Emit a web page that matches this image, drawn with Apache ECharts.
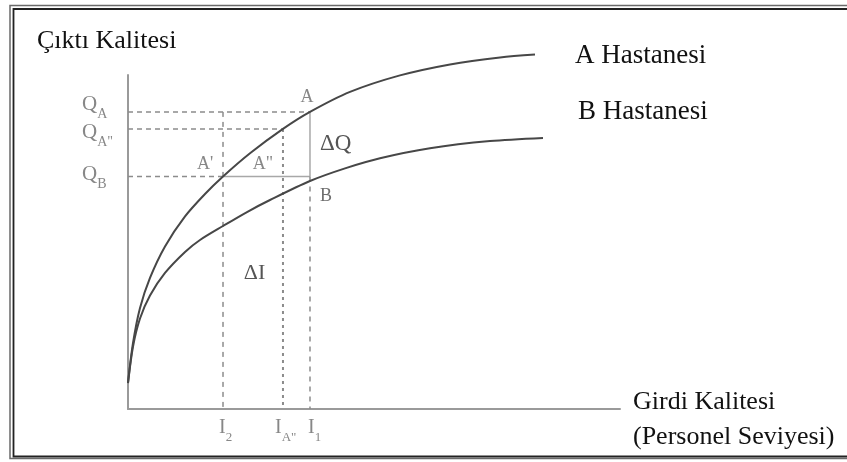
<!DOCTYPE html>
<html>
<head>
<meta charset="utf-8">
<script src="https://cdn.jsdelivr.net/npm/echarts@6/dist/echarts.min.js"></script>
<style>
  html, body { margin: 0; padding: 0; background: #fff; }
  #chart { width: 847px; height: 462px; }
</style>
</head>
<body>
<div id="chart"></div>
<script>
// Production curves: input quality (x) vs output quality (y), 0-100 scale
const hospitalA = [
  [0, 7.78], [1.02, 19.79], [2.44, 30.27], [4.47, 39.25], [7.52, 48.68], [11.59, 57.66],
  [15.65, 64.37], [19.31, 69.61], [24.8, 76.56], [31.5, 83.86], [36.99, 88.95],
  [45.12, 94.94], [55.28, 99.88], [65.45, 103.17], [75.61, 105.27], [82.72, 106.11]
];
const hospitalB = [
  [0, 7.78], [1.02, 18.71], [2.44, 27.10], [4.47, 33.98], [7.52, 40.72], [11.59, 47.01],
  [14.63, 50.60], [19.31, 54.79], [24.19, 58.98], [28.86, 62.57], [36.99, 68.26],
  [44.11, 72.04], [51.22, 75.06], [61.38, 78.05], [73.58, 80.21], [84.35, 81.17]
];

// Input levels I2, IA'', I1 and output levels QA, QA'', QB
const inputLevels = [19.31, 31.5, 36.99];
const inputSubs = ['2', 'A"', '1'];
const outputLevels = [88.95, 83.86, 69.61];
const outputSubs = ['A', 'A"', 'B'];

const yTitle = 'Çıktı Kalitesi';
const xTitle = ['Girdi Kalitesi', '(Personel Seviyesi)'];
const curveNames = ['A Hastanesi', 'B Hastanesi'];

const SERIF = '"Liberation Serif", "Times New Roman", serif';
const [I2, IA, I1] = inputLevels;
const [QA, QAA, QB] = outputLevels;

const chart = echarts.init(document.getElementById('chart'), null, { renderer: 'canvas' });

function seg(points, color, type, width) {
  return {
    type: 'line', data: points, showSymbol: false, silent: true, clip: false,
    lineStyle: { color: color, type: type, width: width }, z: 1
  };
}
const guide = '#8c8c8c';
const axisStyle = { show: true, lineStyle: { color: '#9a9a9a', width: 2 } };

chart.setOption({
  animation: false,
  backgroundColor: '#ffffff',
  grid: { left: 128, right: 227, top: 75, bottom: 53 },
  xAxis: {
    type: 'value', min: 0, max: 100,
    axisLine: axisStyle, axisTick: { show: false }, axisLabel: { show: false }, splitLine: { show: false }
  },
  yAxis: {
    type: 'value', min: 0, max: 100,
    axisLine: axisStyle, axisTick: { show: false }, axisLabel: { show: false }, splitLine: { show: false }
  },
  series: [
    // horizontal guides
    seg([[0, QA], [I1, QA]], guide, [5, 4], 1.5),
    seg([[0, QAA], [IA, QAA]], guide, [5, 4], 1.5),
    seg([[0, QB], [I2, QB]], guide, [5, 4], 1.5),
    seg([[I2, QB], [I1, QB]], '#a8a8a8', 'solid', 1.5),
    // vertical guides
    seg([[I2, QA], [I2, 0]], guide, [5, 5], 1.5),
    seg([[IA, QAA], [IA, 0]], guide, [3, 4], 2),
    seg([[I1, QA], [I1, QB]], '#a8a8a8', 'solid', 1.5),
    seg([[I1, QB], [I1, 0]], guide, [5, 5], 1.5),
    // curves
    {
      type: 'line', name: curveNames[0], data: hospitalA, smooth: 0.3,
      showSymbol: false, clip: false, silent: true, z: 3,
      lineStyle: { color: '#474747', width: 2 }
    },
    {
      type: 'line', name: curveNames[1], data: hospitalB, smooth: 0.3,
      showSymbol: false, clip: false, silent: true, z: 3,
      lineStyle: { color: '#474747', width: 2 }
    }
  ]
});

const px = (x, y) => chart.convertToPixel({ gridIndex: 0 }, [x, y]);

function txt(x, y, text, size, color, align) {
  return {
    type: 'text', x: x, y: y, silent: true, z: 10,
    style: {
      text: text, font: size + 'px ' + SERIF, fill: color,
      align: align || 'left', verticalAlign: 'middle'
    }
  };
}
function sub(x, y, main, s, size, color) {
  return {
    type: 'text', x: x, y: y, silent: true, z: 10,
    style: {
      text: '{m|' + main + '}{s|' + s + '}', align: 'left', verticalAlign: 'middle',
      rich: {
        m: { fontFamily: SERIF, fontSize: size, fill: color, lineHeight: 24, verticalAlign: 'top' },
        s: { fontFamily: SERIF, fontSize: Math.round(size * 0.65), fill: color, lineHeight: 27, verticalAlign: 'bottom' }
      }
    }
  };
}

const gray = '#878787';
const graphics = [];

// frame
graphics.push({ type: 'rect', shape: { x: 10, y: 5.5, width: 860, height: 453 }, style: { fill: null, stroke: '#6a6a6a', lineWidth: 1.5 }, silent: true });
graphics.push({ type: 'rect', shape: { x: 13.5, y: 9, width: 860, height: 447.5 }, style: { fill: null, stroke: '#222', lineWidth: 1.8 }, silent: true });

// titles
graphics.push(txt(37, 41, yTitle, 26, '#111'));
graphics.push(txt(633, 402, xTitle[0], 26, '#111'));
graphics.push(txt(633, 437, xTitle[1], 26, '#111'));
graphics.push(txt(575, 56, curveNames[0], 27, '#111'));
graphics.push(txt(578, 112, curveNames[1], 27, '#111'));

// output level labels (left of y axis)
const qOffsets = [-4, 7, 1];
outputLevels.forEach((q, i) => {
  const p = px(0, q);
  graphics.push(sub(82, p[1] + qOffsets[i], 'Q', outputSubs[i], 21, gray));
});

// input level labels (below x axis)
const iOffsets = [-4, -8, -2];
inputLevels.forEach((v, i) => {
  const p = px(v, 0);
  graphics.push(sub(p[0] + iOffsets[i], p[1] + 22, 'I', inputSubs[i], 20, gray));
});

// point labels
const pA = px(I1, QA), pA1 = px(I2, QB), pA2 = px(IA, QAA), pB = px(I1, QB);
graphics.push(txt(pA[0] - 3, pA[1] - 15, 'A', 18, gray, 'center'));
graphics.push(txt(pA1[0] - 18, pA1[1] - 12, "A'", 18, gray, 'center'));
graphics.push(txt(pA2[0] - 20, pB[1] - 12, 'A"', 18, gray, 'center'));
graphics.push(txt(pB[0] + 16, pB[1] + 20, 'B', 18, '#6e6e6e', 'center'));

// differences
const pDQ = px(I1, (QA + QB) / 2);
graphics.push(txt(pDQ[0] + 10, pDQ[1], 'ΔQ', 23, '#555'));
const pDI = px((I2 + I1) / 2, 0);
graphics.push(txt(pDI[0] - 12, 273, 'ΔI', 22, '#555', 'center'));

chart.setOption({ graphic: graphics });
</script>
</body>
</html>
